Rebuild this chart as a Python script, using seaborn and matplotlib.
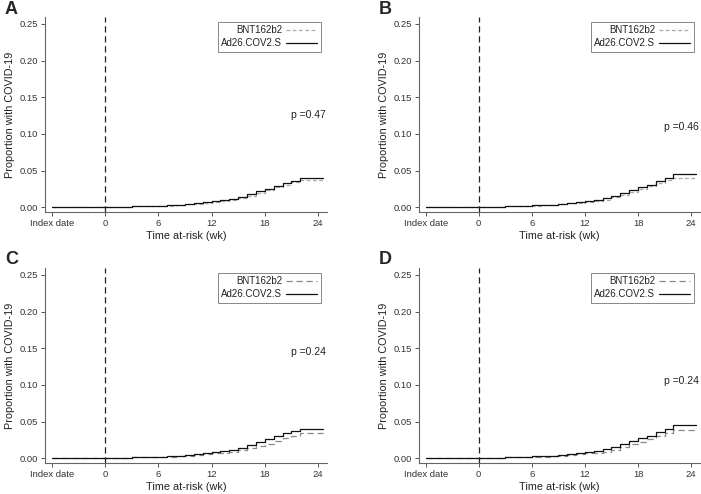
import numpy as np
import pandas as pd
import seaborn as sns
import matplotlib.pyplot as plt

# weeks from index date (-6 = "Index date")
weeks = [-6, 0, 1, 2, 3, 4, 5, 6, 7, 8, 9, 10, 11, 12, 13, 14, 15, 16, 17, 18, 19, 20, 21, 22, 24.5]

ad26_a = [0, 0, 0.0005, 0.001, 0.0015, 0.0018, 0.002, 0.0023, 0.0026, 0.003, 0.0045, 0.0055, 0.0065,
          0.0085, 0.0095, 0.011, 0.014, 0.018, 0.022, 0.025, 0.029, 0.033, 0.036, 0.0404, 0.0404]
bnt_a = [0, 0, 0.0004, 0.0008, 0.0012, 0.0015, 0.0018, 0.002, 0.0023, 0.0028, 0.004, 0.005, 0.006,
         0.0075, 0.0085, 0.0100, 0.0125, 0.016, 0.020, 0.023, 0.027, 0.031, 0.034, 0.037, 0.037]

ad26_b = [0, 0, 0.0005, 0.001, 0.0015, 0.002, 0.0022, 0.0025, 0.0028, 0.0033, 0.0048, 0.006, 0.007,
          0.009, 0.010, 0.012, 0.015, 0.020, 0.024, 0.027, 0.031, 0.036, 0.040, 0.045, 0.045]
bnt_b = [0, 0, 0.0004, 0.0008, 0.0012, 0.0015, 0.0018, 0.002, 0.0024, 0.003, 0.0042, 0.0052, 0.0062,
         0.0078, 0.0088, 0.0105, 0.0135, 0.017, 0.021, 0.025, 0.029, 0.033, 0.037, 0.040, 0.040]

ad26_c = [0, 0, 0.0005, 0.001, 0.0015, 0.0018, 0.002, 0.0023, 0.0026, 0.0032, 0.0045, 0.0055, 0.0068,
          0.0088, 0.0098, 0.0115, 0.0145, 0.0185, 0.0225, 0.026, 0.030, 0.034, 0.037, 0.0405, 0.0405]
bnt_c = [0, 0, 0.0004, 0.0008, 0.0011, 0.0014, 0.0016, 0.0018, 0.002, 0.0025, 0.0035, 0.0043, 0.0052,
         0.0065, 0.0073, 0.0085, 0.011, 0.014, 0.017, 0.020, 0.024, 0.028, 0.031, 0.034, 0.034]

ad26_d = [0, 0, 0.0005, 0.001, 0.0015, 0.002, 0.0022, 0.0025, 0.0028, 0.0033, 0.0048, 0.006, 0.0072,
          0.009, 0.010, 0.012, 0.015, 0.020, 0.024, 0.027, 0.031, 0.036, 0.040, 0.045, 0.045]
bnt_d = [0, 0, 0.0004, 0.0008, 0.0011, 0.0014, 0.0016, 0.0018, 0.002, 0.0026, 0.0036, 0.0045, 0.0055,
         0.0068, 0.0077, 0.009, 0.0115, 0.015, 0.019, 0.022, 0.026, 0.030, 0.034, 0.038, 0.038]

panel_labels = ["A", "B", "C", "D"]
p_values = ["p =0.47", "p =0.46", "p =0.24", "p =0.24"]
p_y = [0.126, 0.11, 0.145, 0.106]
xtick_vals = [-6, 0, 6, 12, 18, 24]
xtick_labels = ["Index date", "0", "6", "12", "18", "24"]
ytick_vals = [0.00, 0.05, 0.10, 0.15, 0.20, 0.25]

sns.set_style("ticks")
plt.rcParams['font.family'] = ['Liberation Sans', 'DejaVu Sans']

fig = plt.figure(figsize=(7.01, 4.94), dpi=100)
W, H = 701, 494
# axes boxes in pixels: left, top, right, bottom
boxes = [(45, 17, 327, 212), (419, 17, 700, 212), (45, 268, 327, 463), (419, 268, 700, 463)]
series = [(bnt_a, ad26_a), (bnt_b, ad26_b), (bnt_c, ad26_c), (bnt_d, ad26_d)]
bnt_styles = [("#aaaaaa", (3, 2)), ("#aaaaaa", (3, 2)), ("#888888", (5, 3)), ("#888888", (5, 3))]

for i, (l, t, r, b) in enumerate(boxes):
    ax = fig.add_axes([l / W, (H - b) / H, (r - l) / W, (b - t) / H])
    bnt, ad26 = series[i]
    df = pd.DataFrame({
        "week": weeks * 2,
        "prop": bnt + ad26,
        "vaccine": ["BNT162b2"] * len(weeks) + ["Ad26.COV2.S"] * len(weeks),
    })
    col, dash = bnt_styles[i]
    sns.lineplot(data=df, x="week", y="prop", hue="vaccine", style="vaccine",
                 palette={"BNT162b2": col, "Ad26.COV2.S": "#111111"},
                 dashes={"BNT162b2": dash, "Ad26.COV2.S": ""},
                 drawstyle="steps-post", estimator=None, linewidth=0.9, ax=ax)
    ax.axvline(0, color="#222222", linestyle=(0, (5, 3)), linewidth=0.9)
    ax.set_xlim(-6.75, 25)
    ax.set_ylim(-0.0065, 0.2595)
    ax.set_xticks(xtick_vals)
    ax.set_xticklabels(xtick_labels)
    ax.set_yticks(ytick_vals)
    ax.set_yticklabels([f"{v:.2f}" for v in ytick_vals])
    ax.tick_params(axis="both", labelsize=6.8, colors="#555555", labelcolor="#333333",
                   length=3, width=0.7, pad=2)
    for s in ["top", "right"]:
        ax.spines[s].set_visible(False)
    for s in ["left", "bottom"]:
        ax.spines[s].set_color("#666666")
        ax.spines[s].set_linewidth(0.8)
    ax.set_xlabel("Time at-risk (wk)", fontsize=7.8, color="#222222", labelpad=2)
    ax.set_ylabel("Proportion with COVID-19", fontsize=7.8, color="#222222", labelpad=3)
    ax.text(24.9, p_y[i], p_values[i], ha="right", va="center", fontsize=7.5, color="#222222")
    leg = ax.legend(loc="upper right", bbox_to_anchor=(0.995, 1.0), fontsize=7,
                    markerfirst=False, handlelength=3.2, handletextpad=0.4,
                    borderpad=0.35, labelspacing=0.3, fancybox=False, framealpha=1,
                    edgecolor="#888888", title=None)
    leg.get_frame().set_linewidth(0.7)
    for txt in leg.get_texts():
        txt.set_color("#222222")
    fig.text((l - 40) / W, 1 - (t - 8) / H, panel_labels[i], fontsize=13, fontweight="bold",
             va="center", ha="left")

fig.savefig("out.png", dpi=100)
